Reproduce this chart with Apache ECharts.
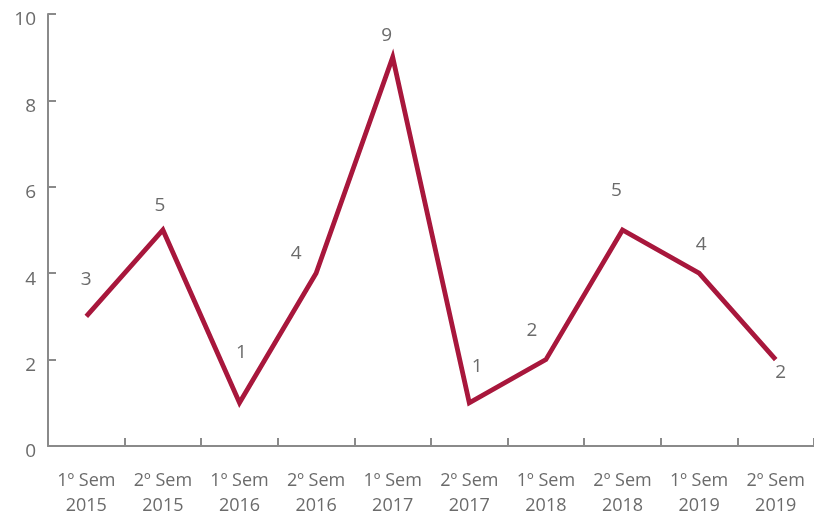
<!DOCTYPE html>
<html>
<head>
<meta charset="utf-8">
<script src="https://cdn.jsdelivr.net/npm/echarts@6/dist/echarts.min.js"></script>
<style>
  html, body { margin: 0; padding: 0; background: #fff; }
  #chart { width: 814px; height: 518px; }
</style>
</head>
<body>
<div id="chart"></div>
<script>
// Semester labels and counts per semester
const categories = [
  '1º Sem\n2015', '2º Sem\n2015', '1º Sem\n2016', '2º Sem\n2016', '1º Sem\n2017',
  '2º Sem\n2017', '1º Sem\n2018', '2º Sem\n2018', '1º Sem\n2019', '2º Sem\n2019'
];
const values = [3, 5, 1, 4, 9, 1, 2, 5, 4, 2];
const yTicks = [0, 2, 4, 6, 8, 10];

// Per-point label nudges [dx, dy] in pixels, relative to the point
const labelOffsets = [
  [0, -37], [-3, -24], [2, -50], [-20, -20], [-6, -22],
  [8, -36], [-14, -29], [-6, -39], [2, -29], [5, 13]
];

const axisGray = '#8a8a8a';
const textGray = '#6b6b6b';
const fontFamily = '"Open Sans", "Noto Sans", sans-serif';

const chart = echarts.init(document.getElementById('chart'), null, { renderer: 'canvas' });
chart.setOption({
  animation: false,
  grid: { left: 48, right: 0, top: 14, bottom: 72, containLabel: false },
  xAxis: {
    type: 'category',
    data: categories,
    boundaryGap: true,
    axisLine: { lineStyle: { color: axisGray, width: 2 } },
    axisTick: { show: true, inside: true, length: 8, lineStyle: { color: axisGray, width: 2 } },
    axisLabel: {
      color: textGray, fontSize: 18, fontFamily: fontFamily,
      lineHeight: 25, margin: 22, interval: 0
    },
    splitLine: { show: false }
  },
  yAxis: {
    type: 'value',
    min: yTicks[0],
    max: yTicks[yTicks.length - 1],
    interval: 2,
    axisLine: { show: true, lineStyle: { color: axisGray, width: 2 } },
    axisTick: { show: true, inside: true, length: 8, lineStyle: { color: axisGray, width: 2 } },
    axisLabel: {
      color: textGray, fontSize: 19, fontFamily: fontFamily, margin: 12,
      verticalAlign: 'top', lineHeight: 12
    },
    splitLine: { show: false }
  },
  series: [{
    type: 'line',
    data: values.map((v, i) => ({
      value: v,
      label: { offset: labelOffsets[i] }
    })),
    symbol: 'circle',
    symbolSize: 0,
    showSymbol: true,
    itemStyle: { color: '#a8173c' },
    lineStyle: { color: '#a8173c', width: 4.8, join: 'miter' },
    label: {
      show: true,
      position: 'inside',
      color: textGray,
      fontSize: 19,
      fontFamily: fontFamily
    }
  }]
});
</script>
</body>
</html>
